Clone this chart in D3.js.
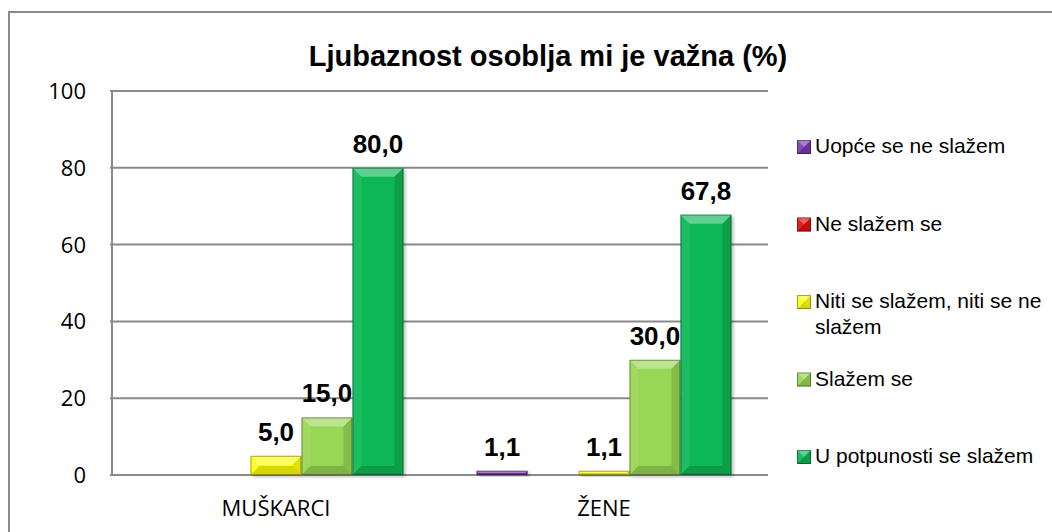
<!DOCTYPE html>
<html>
<head>
<meta charset="utf-8">
<script src="https://cdn.jsdelivr.net/npm/d3@7"></script>
<style>
  html, body { margin: 0; padding: 0; background: #fff; }
  svg { display: block; }
</style>
</head>
<body>
<div id="chart"></div>
<script>
// Podaci
const categories = ['MUŠKARCI', 'ŽENE'];
const seriesNames = ['Uopće se ne slažem', 'Ne slažem se', 'Niti se slažem, niti se ne slažem', 'Slažem se', 'U potpunosti se slažem'];
const seriesColors = ['#7a3bb0', '#e01010', '#ffff10', '#98d654', '#0bb755'];
const uopceSeNe = [null, 1.1];
const neSlazem = [null, null];
const nitiNiti = [5.0, 1.1];
const slazemSe = [15.0, 30.0];
const uPotpunosti = [80.0, 67.8];
const yTicks = [0, 20, 40, 60, 80, 100];
const seriesValues = [uopceSeNe, neSlazem, nitiNiti, slazemSe, uPotpunosti];

const width = 1052, height = 532;
const plot = { left: 112, right: 768, top: 91, bottom: 475 };

const svg = d3.select('#chart').append('svg')
    .attr('width', width)
    .attr('height', height);

// sjena stupaca
const defs = svg.append('defs');
defs.append('filter').attr('id', 'shadow')
    .attr('x', '-20%').attr('y', '-20%').attr('width', '150%').attr('height', '150%')
    .append('feDropShadow')
    .attr('dx', 2).attr('dy', 2).attr('stdDeviation', 1.5)
    .attr('flood-color', '#000').attr('flood-opacity', 0.25);

// okvir
svg.append('path')
    .attr('d', `M9,${height} L9,12 L${width},12`)
    .attr('fill', 'none')
    .attr('stroke', '#8a8a8a')
    .attr('stroke-width', 2);

// naslov
svg.append('text')
    .attr('x', 548)
    .attr('y', 66)
    .attr('text-anchor', 'middle')
    .style('font-family', '"Liberation Sans", Arial, sans-serif')
    .style('font-size', '29px')
    .style('font-weight', 'bold')
    .text('Ljubaznost osoblja mi je važna (%)');

const y = d3.scaleLinear().domain([0, 100]).range([plot.bottom, plot.top]);
const x0 = d3.scaleBand().domain(categories)
    .range([plot.left, plot.right])
    .paddingInner(0.223)
    .paddingOuter(0.1115);
const x1 = d3.scaleBand().domain(d3.range(seriesNames.length))
    .range([0, x0.bandwidth()]);

// mreža
svg.append('g')
    .selectAll('line')
    .data(yTicks)
    .enter()
    .append('line')
    .attr('x1', plot.left - 2)
    .attr('x2', plot.right)
    .attr('y1', d => y(d))
    .attr('y2', d => y(d))
    .attr('stroke', '#8a8a8a')
    .attr('stroke-width', 2);

// lijeva os
svg.append('line')
    .attr('x1', plot.left).attr('x2', plot.left)
    .attr('y1', y(100) - 1).attr('y2', y(0) + 1)
    .attr('stroke', '#8a8a8a')
    .attr('stroke-width', 2);

svg.append('g')
    .selectAll('text')
    .data(yTicks)
    .enter()
    .append('text')
    .attr('x', 86)
    .attr('y', d => y(d))
    .attr('dy', '0.36em')
    .attr('text-anchor', 'end')
    .style('font-family', '"Open Sans", sans-serif')
    .style('font-size', '22px')
    .text(d => d);

// kategorije
svg.append('g')
    .selectAll('text')
    .data(categories)
    .enter()
    .append('text')
    .attr('x', d => x0(d) + x0.bandwidth() / 2)
    .attr('y', 516)
    .attr('text-anchor', 'middle')
    .style('font-family', '"Open Sans", sans-serif')
    .style('font-size', '22px')
    .text(d => d);

// stupci
const bars = [];
categories.forEach((c, ci) => {
    seriesValues.forEach((vals, si) => {
        const v = vals[ci];
        if (v === null || v === undefined) return;
        bars.push({ cat: c, si: si, value: v });
    });
});

function bevel(g, x, yTop, w, h, color) {
    const b = Math.min(9, h / 2, w / 2);
    g.append('rect')
        .attr('x', x).attr('y', yTop)
        .attr('width', w).attr('height', h)
        .attr('fill', color);
    const poly = (pts, fill, op) => g.append('polygon')
        .attr('points', pts.map(p => p.join(',')).join(' '))
        .attr('fill', fill)
        .attr('fill-opacity', op);
    // gornji rub svjetliji
    poly([[x, yTop], [x + w, yTop], [x + w - b, yTop + b], [x + b, yTop + b]], '#fff', 0.35);
    // lijevi
    poly([[x, yTop], [x + b, yTop + b], [x + b, yTop + h - b], [x, yTop + h]], '#fff', 0.08);
    // desni
    poly([[x + w, yTop], [x + w - b, yTop + b], [x + w - b, yTop + h - b], [x + w, yTop + h]], '#000', 0.12);
    // donji
    poly([[x, yTop + h], [x + b, yTop + h - b], [x + w - b, yTop + h - b], [x + w, yTop + h]], '#000', 0.16);
    g.append('rect')
        .attr('x', x + 0.5).attr('y', yTop + 0.5)
        .attr('width', Math.max(0, w - 1)).attr('height', Math.max(0, h - 1))
        .attr('fill', 'none')
        .attr('stroke', '#000')
        .attr('stroke-opacity', 0.35)
        .attr('stroke-width', 1);
}

const barG = svg.append('g');
bars.forEach(d => {
    const bx = x0(d.cat) + x1(d.si);
    const bw = x1.bandwidth();
    const top = y(d.value);
    const g = barG.append('g').attr('filter', 'url(#shadow)');
    bevel(g, bx, top, bw, y(0) - top, seriesColors[d.si]);
});

// oznake vrijednosti
const fmt = d3.format('.1f');
svg.append('g')
    .selectAll('text')
    .data(bars)
    .enter()
    .append('text')
    .attr('x', d => x0(d.cat) + x1(d.si) + x1.bandwidth() / 2)
    .attr('y', d => y(d.value) - 15)
    .attr('text-anchor', 'middle')
    .style('font-family', '"Liberation Sans", Arial, sans-serif')
    .style('font-size', '26px')
    .style('font-weight', 'bold')
    .text(d => fmt(d.value).replace('.', ','));

// legenda
const legend = svg.append('g');
seriesNames.forEach((name, i) => {
    const base = 153 + i * 77.5;
    const lg = legend.append('g');
    bevel(lg, 797, base - 13, 14, 14, seriesColors[i]);
    const t = lg.append('text')
        .attr('x', 815)
        .attr('y', base)
        .style('font-family', '"Liberation Sans", Arial, sans-serif')
        .style('font-size', '21px');
    if (name.startsWith('Niti')) {
        t.append('tspan').attr('x', 815).text('Niti se slažem, niti se ne');
        t.append('tspan').attr('x', 815).attr('dy', 26).text('slažem');
    } else {
        t.text(name);
    }
});
</script>
</body>
</html>
